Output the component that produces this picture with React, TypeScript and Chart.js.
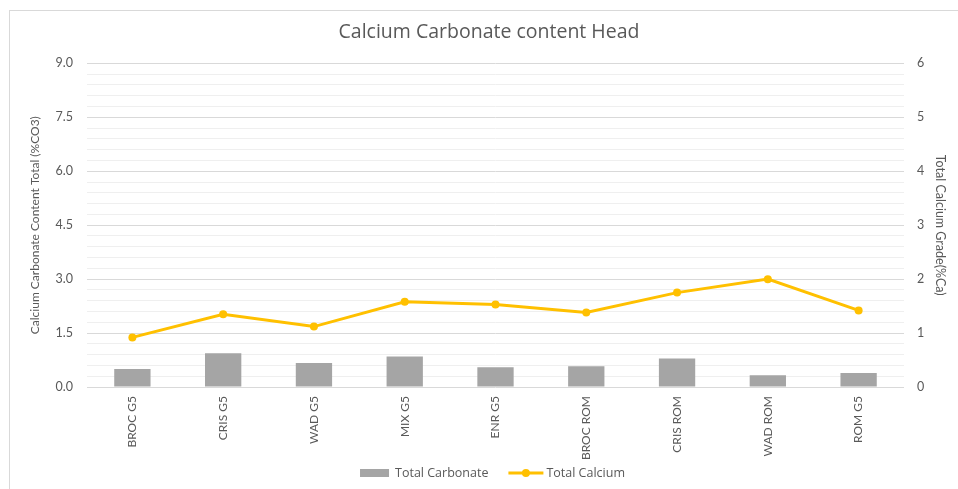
import React, { useEffect, useRef } from "react";
import { Chart, registerables } from "chart.js";

Chart.register(...registerables);

// Sample categories along the x axis
const categories = [
  "BROC G5",
  "CRIS G5",
  "WAD G5",
  "MIX G5",
  "ENR G5",
  "BROC ROM",
  "CRIS ROM",
  "WAD ROM",
  "ROM G5",
];

// Total carbonate (%CO3), left axis
const totalCarbonate = [0.5, 0.94, 0.67, 0.85, 0.55, 0.58, 0.79, 0.33, 0.39];

// Total calcium grade (%Ca), right axis
const totalCalcium = [0.92, 1.35, 1.12, 1.58, 1.53, 1.38, 1.75, 2.0, 1.42];

// Labelled tick values on the left axis (minor gridlines fall between them)
const leftTickLabels = ["0.0", "1.5", "3.0", "4.5", "6.0", "7.5", "9.0"];
const rightTickLabels = ["0", "1", "2", "3", "4", "5", "6"];

const FONT = "Lato, 'Open Sans', sans-serif";
const WIDE_FONT = "'Open Sans', Lato, sans-serif";
const TEXT = "#595959";
const BAR = "#a5a5a5";
const LINE = "#ffc000";

// Legend drawn beneath the axis labels: a grey swatch for the bars and
// a line-with-marker for the calcium series.
const bottomLegend = {
  id: "bottomLegend",
  afterDraw(chart: any) {
    const { ctx, chartArea } = chart;
    const y = 473;
    ctx.save();
    ctx.font = `12.5px ${WIDE_FONT}`;
    ctx.textBaseline = "middle";
    ctx.fillStyle = TEXT;
    const t1 = "Total Carbonate";
    const t2 = "Total Calcium";
    const w1 = ctx.measureText(t1).width;
    const w2 = ctx.measureText(t2).width;
    const box = 29;
    const lineW = 35;
    const total = box + 6 + w1 + 20 + lineW + 3 + w2;
    let x = (chartArea.left + chartArea.right) / 2 - 3 - total / 2;
    ctx.fillStyle = BAR;
    ctx.fillRect(x, y - 4, box, 8);
    x += box + 6;
    ctx.fillStyle = TEXT;
    ctx.fillText(t1, x, y);
    x += w1 + 20;
    ctx.strokeStyle = LINE;
    ctx.lineWidth = 3;
    ctx.beginPath();
    ctx.moveTo(x, y);
    ctx.lineTo(x + lineW, y);
    ctx.stroke();
    ctx.fillStyle = LINE;
    ctx.beginPath();
    ctx.arc(x + lineW / 2, y, 4, 0, Math.PI * 2);
    ctx.fill();
    x += lineW + 3;
    ctx.fillStyle = TEXT;
    ctx.fillText(t2, x, y);
    ctx.restore();
  },
};

export default function App() {
  const canvasRef = useRef<HTMLCanvasElement | null>(null);

  useEffect(() => {
    if (!canvasRef.current) return;
    const chart = new Chart(canvasRef.current, {
      type: "bar",
      data: {
        labels: categories,
        datasets: [
          {
            type: "line",
            label: "Total Calcium",
            data: totalCalcium,
            yAxisID: "y1",
            borderColor: LINE,
            backgroundColor: LINE,
            borderWidth: 3,
            pointRadius: 4,
            pointBackgroundColor: LINE,
            pointBorderColor: LINE,
            pointBorderWidth: 0,
            tension: 0,
            order: 0,
          },
          {
            type: "bar",
            label: "Total Carbonate",
            data: totalCarbonate,
            yAxisID: "y",
            backgroundColor: BAR,
            categoryPercentage: 1,
            barPercentage: 0.4,
            order: 1,
          },
        ],
      },
      options: {
        animation: false,
        responsive: false,
        layout: { padding: { left: 20, right: 0, top: 0, bottom: 0 } },
        plugins: {
          legend: { display: false },
          tooltip: { enabled: false },
          title: {
            display: true,
            text: "Calcium Carbonate content Head",
            color: TEXT,
            font: { family: WIDE_FONT, size: 19.5, weight: "normal" },
            padding: { top: 21, bottom: 19 },
          },
        },
        scales: {
          x: {
            grid: { display: false, drawTicks: false },
            border: { display: false },
            ticks: {
              color: TEXT,
              font: { family: FONT, size: 12 },
              maxRotation: 90,
              minRotation: 90,
              padding: 9,
              autoSkip: false,
            },
            afterFit(scale: any) {
              scale.height = 102;
            },
          },
          y: {
            position: "left",
            min: 0,
            max: 9,
            ticks: {
              stepSize: 0.3,
              autoSkip: false,
              color: TEXT,
              font: { family: FONT, size: 12.5 },
              padding: 14,
              callback: (_v: any, i: number) => (i % 5 === 0 ? leftTickLabels[i / 5] : ""),
            },
            grid: {
              drawTicks: false,
              lineWidth: 1,
              color: (c: any) => (c.index % 5 === 0 ? "#d9d9d9" : "#efefef"),
            },
            border: { display: false },
            title: {
              display: true,
              text: "Calcium Carbonate Content Total (%CO3)",
              color: TEXT,
              font: { family: FONT, size: 12 },
              padding: { top: 8, bottom: 0 },
            },
            afterFit(scale: any) {
              scale.width = 67;
            },
          },
          y1: {
            position: "right",
            min: 0,
            max: 6,
            ticks: {
              stepSize: 1,
              color: TEXT,
              font: { family: FONT, size: 12.5 },
              padding: 13,
              callback: (_v: any, i: number) => rightTickLabels[i],
            },
            grid: { drawOnChartArea: false, drawTicks: false },
            border: { display: false },
            title: {
              display: true,
              text: "Total Calcium Grade(%Ca)",
              color: TEXT,
              font: { family: FONT, size: 12.5 },
              padding: { top: 10, bottom: 0 },
            },
            afterFit(scale: any) {
              scale.width = 54;
            },
          },
        },
      },
      plugins: [bottomLegend],
    });
    return () => chart.destroy();
  }, []);

  return (
    <div
      style={{
        position: "fixed",
        left: 0,
        top: 0,
        width: 958,
        height: 489,
        background: "#fff",
        overflow: "hidden",
      }}
    >
      <div
        style={{
          position: "absolute",
          left: 9,
          top: 10,
          width: 1000,
          height: 1000,
          borderLeft: "1px solid #d9d9d9",
          borderTop: "1px solid #d9d9d9",
          pointerEvents: "none",
        }}
      />
      <canvas ref={canvasRef} width={958} height={489} style={{ position: "absolute", left: 0, top: 0 }} />
    </div>
  );
}
